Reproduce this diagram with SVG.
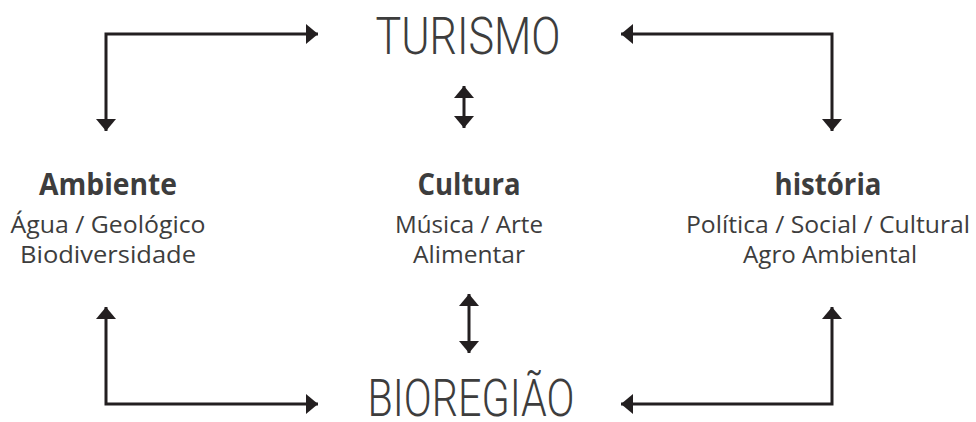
<svg xmlns="http://www.w3.org/2000/svg" width="976" height="422" viewBox="0 0 976 422">
<defs>
<marker id="ah" viewBox="0 0 12 20" refX="12" refY="10" markerWidth="12" markerHeight="20" markerUnits="userSpaceOnUse" orient="auto-start-reverse">
<path d="M0,0 L12,10 L0,20 Z" fill="#231f20"/>
</marker>
<style>
.big{font-family:Roboto,"Open Sans",sans-serif;font-weight:300;font-size:51px;fill:#3d3d3d;text-anchor:middle}
.hd{font-family:"Open Sans","Noto Sans",sans-serif;font-weight:700;font-size:30px;fill:#3d3d3d;text-anchor:middle}
.sb{font-family:"Open Sans","Noto Sans",sans-serif;font-size:24px;fill:#3d3d3d;text-anchor:middle}
.c{fill:none;stroke:#231f20;stroke-width:3}
</style>
</defs>
<g id="connectors">
<path class="c" d="M106,131 V34 H318" marker-start="url(#ah)" marker-end="url(#ah)"/>
<path class="c" d="M621,34 H832 V131" marker-start="url(#ah)" marker-end="url(#ah)"/>
<path class="c" d="M106,307 V404 H318" marker-start="url(#ah)" marker-end="url(#ah)"/>
<path class="c" d="M621,404 H832 V307" marker-start="url(#ah)" marker-end="url(#ah)"/>
<path class="c" d="M464,86 V128" marker-start="url(#ah)" marker-end="url(#ah)"/>
<path class="c" d="M469,294 V353" marker-start="url(#ah)" marker-end="url(#ah)"/>
</g>
<g id="turismo"><text class="big" x="468" y="54" textLength="185" lengthAdjust="spacingAndGlyphs">TURISMO</text></g>
<g id="bioregiao"><text class="big" x="471" y="416" textLength="207" lengthAdjust="spacingAndGlyphs">BIOREGIÃO</text></g>
<g id="ambiente">
<text class="hd" x="108" y="195" textLength="138" lengthAdjust="spacingAndGlyphs">Ambiente</text>
<text class="sb" x="108" y="233" textLength="195" lengthAdjust="spacingAndGlyphs">Água / Geológico</text>
<text class="sb" x="108" y="263" textLength="176" lengthAdjust="spacingAndGlyphs">Biodiversidade</text>
</g>
<g id="cultura">
<text class="hd" x="469" y="195" textLength="103" lengthAdjust="spacingAndGlyphs">Cultura</text>
<text class="sb" x="469" y="233" textLength="148" lengthAdjust="spacingAndGlyphs">Música / Arte</text>
<text class="sb" x="469" y="263" textLength="112" lengthAdjust="spacingAndGlyphs">Alimentar</text>
</g>
<g id="historia">
<text class="hd" x="828" y="195" textLength="107" lengthAdjust="spacingAndGlyphs">história</text>
<text class="sb" x="828" y="233" textLength="284" lengthAdjust="spacingAndGlyphs">Política / Social / Cultural</text>
<text class="sb" x="830" y="263" textLength="174" lengthAdjust="spacingAndGlyphs">Agro Ambiental</text>
</g>
</svg>
